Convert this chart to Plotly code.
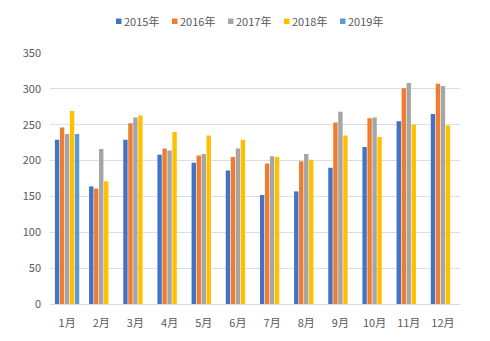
import plotly.graph_objects as go

months = ["1月", "2月", "3月", "4月", "5月", "6月", "7月", "8月", "9月", "10月", "11月", "12月"]
y2015 = [229, 164, 229, 208, 197, 186, 152, 157, 190, 219, 255, 265]
y2016 = [246, 161, 252, 217, 207, 205, 196, 199, 253, 259, 301, 307]
y2017 = [237, 216, 260, 214, 209, 217, 206, 209, 268, 260, 308, 304]
y2018 = [269, 171, 263, 240, 235, 229, 205, 201, 235, 233, 250, 249]
y2019 = [237, None, None, None, None, None, None, None, None, None, None, None]

series = [
    ("2015年", y2015, "#4472C4"),
    ("2016年", y2016, "#ED7D31"),
    ("2017年", y2017, "#A5A5A5"),
    ("2018年", y2018, "#FFC000"),
    ("2019年", y2019, "#5B9BD5"),
]

font_family = "Noto Sans CJK SC, Noto Sans, sans-serif"

W, H = 490, 341
L, R, T, B = 50, 30, 53, 37
pw, ph = W - L - R, H - T - B

def px_x(px):
    return (px - L) / pw

def px_y(py):
    return (H - B - py) / ph

fig = go.Figure()
for name, vals, color in series:
    fig.add_trace(go.Bar(x=months, y=vals, name=name, marker_color=color,
                         marker_line_width=0, showlegend=False))

# custom legend (small squares directly before the labels)
leg_start = 116
leg_step = 56
leg_y = 21
shapes = []
annotations = []
for i, (name, vals, color) in enumerate(series):
    sx = leg_start + i * leg_step
    shapes.append(dict(type="rect", xref="paper", yref="paper",
                       x0=px_x(sx), x1=px_x(sx + 5.5), y0=px_y(leg_y + 3), y1=px_y(leg_y - 2.5),
                       fillcolor=color, line=dict(width=0)))
    annotations.append(dict(xref="paper", yref="paper", x=px_x(sx + 5.5), y=px_y(leg_y),
                            xanchor="left", yanchor="middle", showarrow=False,
                            text=name, font=dict(size=11, color="#595959", family=font_family)))

fig.update_layout(
    width=W, height=H,
    margin=dict(l=L, r=R, t=T, b=B),
    paper_bgcolor="white", plot_bgcolor="white",
    barmode="group", bargap=0.27, bargroupgap=0.12,
    font=dict(family=font_family, size=11, color="#595959"),
    showlegend=False,
    shapes=shapes,
    annotations=annotations,
)
fig.update_xaxes(showgrid=False, showline=True, linecolor="#D9D9D9", linewidth=1,
                 ticks="", tickfont=dict(size=11, color="#595959"), ticklabelstandoff=9)
fig.update_yaxes(range=[0, 350], dtick=50, showgrid=True, gridcolor="#DADDEB", gridwidth=1,
                 zeroline=False, showline=False, ticks="", tickfont=dict(size=11, color="#595959"),
                 ticklabelstandoff=8)

fig.write_html("out.html")
